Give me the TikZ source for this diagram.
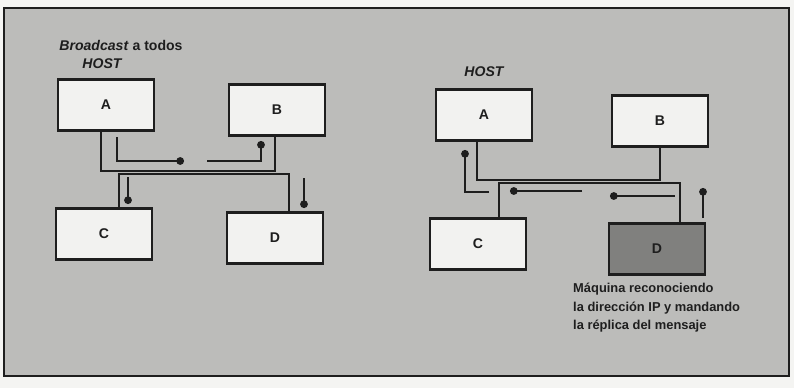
\documentclass[tikz,border=0pt]{standalone}
\usepackage{fontspec}
\setmainfont{Liberation Sans}
\usepackage{xcolor}
\definecolor{scanPaper}{RGB}{244, 244, 242}
\definecolor{scanGray}{RGB}{188, 188, 186}
\definecolor{scanBox}{RGB}{242, 242, 240}
\definecolor{scanDark}{RGB}{128, 128, 126}
\definecolor{scanInk}{RGB}{30, 30, 30}
\usepackage{tikz}
\usetikzlibrary{arrows.meta, calc}

\begin{document}
\begin{tikzpicture}[
    x=0.03cm, y=-0.03cm,
    host/.style={
        rectangle, draw=scanInk, line width=2pt,
        fill=scanBox, text=scanInk,
        font=\bfseries\large,
        minimum width=2.88cm, minimum height=1.53cm
    },
    hostHit/.style={
        host, fill=scanDark
    },
    wire/.style={
        line width=1.6pt, draw=scanInk
    },
    signal/.style={
        -{Circle[length=6.5pt]}, line width=2pt, draw=scanInk
    },
    caption/.style={
        font=\bfseries\itshape\large, text=scanInk, inner sep=1pt
    },
    note/.style={
        font=\bfseries\fontsize{11}{15.8}\selectfont, text=scanInk,
        align=left, anchor=north west, inner sep=0pt
    }
]

    % Page and scanned frame
    \fill[scanPaper] (0,0) rectangle (794,388);
    \useasboundingbox (0,0) rectangle (794,388);
    \draw[fill=scanGray, draw=scanInk, line width=1.2pt] (4,8) rectangle (789,376);

    % Left panel: broadcast
    \node[caption] (lblBroadcast) at (121,45) {Broadcast \textup{a todos}};
    \node[caption] (lblHostL) at (102,64) {HOST};

    \node[host] (lA) at (106,105) {A};
    \node[host] (lB) at (277,110) {B};
    \node[host] (lC) at (104,234) {C};
    \node[host] (lD) at (275,238) {D};

    \coordinate (lbus1) at (101,171);
    \coordinate (lbus2) at (275,171);
    \coordinate (lbus3) at (119,174);
    \coordinate (lbus4) at (289,174);
    \draw[wire] (lA.south -| lbus1) -- (lbus1) -- (lbus2) -- (lB.south -| lbus2);
    \draw[wire] (lC.north -| lbus3) -- (lbus3) -- (lbus4) -- (lD.north -| lbus4);

    \coordinate (ls1a) at (117,137);
    \coordinate (ls1b) at (184,161);
    \coordinate (ls2a) at (207,161);
    \coordinate (ls2b) at (261,141);
    \coordinate (ls3a) at (128,177);
    \coordinate (ls3b) at (128,204);
    \coordinate (ls4a) at (304,178);
    \coordinate (ls4b) at (304,208);
    \draw[signal] (ls1a) |- (ls1b);
    \draw[signal] (ls2a) -| (ls2b);
    \draw[signal] (ls3a) -- (ls3b);
    \draw[signal] (ls4a) -- (ls4b);

    % Right panel: reply
    \node[caption] (lblHostR) at (484,72) {HOST};

    \node[host] (rA) at (484,115) {A};
    \node[host] (rB) at (660,121) {B};
    \node[host] (rC) at (478,244) {C};
    \node[hostHit] (rD) at (657,249) {D};

    \coordinate (rbus1) at (477,180);
    \coordinate (rbus2) at (660,180);
    \coordinate (rbus3) at (499,183);
    \coordinate (rbus4) at (680,183);
    \draw[wire] (rA.south -| rbus1) -- (rbus1) -- (rbus2) -- (rB.south -| rbus2);
    \draw[wire] (rC.north -| rbus3) -- (rbus3) -- (rbus4) -- (rD.north -| rbus4);

    \coordinate (rs1a) at (489,192);
    \coordinate (rs1b) at (465,150);
    \coordinate (rs2a) at (582,191);
    \coordinate (rs2b) at (510,191);
    \coordinate (rs3a) at (675,196);
    \coordinate (rs3b) at (610,196);
    \coordinate (rs4a) at (703,218);
    \coordinate (rs4b) at (703,188);
    \draw[signal] (rs1a) -| (rs1b);
    \draw[signal] (rs2a) -- (rs2b);
    \draw[signal] (rs3a) -- (rs3b);
    \draw[signal] (rs4a) -- (rs4b);

    \node[note] (noteD) at (573,283) {Máquina reconociendo\\la dirección IP y mandando\\la réplica del mensaje};

\end{tikzpicture}
\end{document}
